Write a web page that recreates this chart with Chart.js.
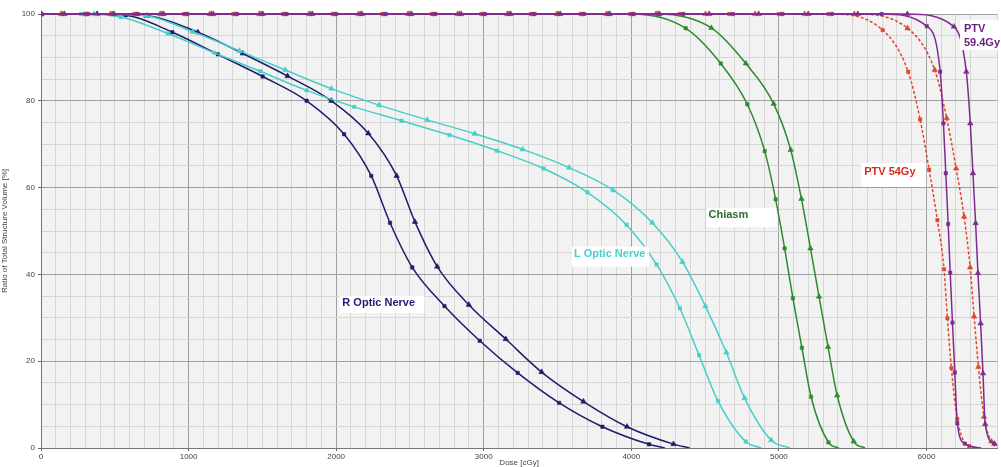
<!DOCTYPE html>
<html>
<head>
<meta charset="utf-8">
<script src="https://cdn.jsdelivr.net/npm/chart.js@4.4.1/dist/chart.umd.min.js"></script>
<style>
html, body { margin: 0; padding: 0; background: #fff; }
#wrap { width: 1001px; height: 467px; }
</style>
</head>
<body>
<div id="wrap"><canvas id="dvh" width="1001" height="467"></canvas></div>
<script>
// DVH curves, [dose cGy, volume %]; square markers = plan A, triangles = plan B
const ptv594Sq = [[0,100],[320,100],[656,100],[992,100],[1328,100],[1664,100],[2000,100],[2336,100],[2672,100],[3008,100],[3344,100],[3680,100],[4016,100],[4352,100],[4688,100],[5024,100],[5360,100],[5696,100],[6002,97.2],[6093,86.7],[6115,74.8],[6131,63.3],[6147,51.6],[6161,40.4],[6176,28.9],[6192,17.4],[6209,5.7],[6260,1.0],[6370,0]];
const ptv594Tri = [[0,100],[159,100],[495,100],[831,100],[1167,100],[1503,100],[1839,100],[2175,100],[2511,100],[2847,100],[3183,100],[3519,100],[3855,100],[4191,100],[4527,100],[4863,100],[5199,100],[5535,100],[5871,100],[6186,97.1],[6270,86.7],[6297,74.8],[6315,63.3],[6333,51.8],[6349,40.3],[6367,28.7],[6383,17.2],[6398,5.5],[6460,1.0],[6540,0]];
const ptv54Sq = [[0,100],[296,100],[632,100],[968,100],[1304,100],[1640,100],[1976,100],[2312,100],[2648,100],[2984,100],[3320,100],[3656,100],[3992,100],[4328,100],[4664,100],[5000,100],[5336,100],[5703,96.3],[5876,86.7],[5957,75.7],[6018,64.1],[6074,52.5],[6119,41.2],[6142,29.9],[6169,18.4],[6209,6.7],[6290,0.4],[6370,0]];
const ptv54Tri = [[0,100],[135,100],[471,100],[807,100],[1143,100],[1479,100],[1815,100],[2151,100],[2487,100],[2823,100],[3159,100],[3495,100],[3831,100],[4167,100],[4503,100],[4839,100],[5175,100],[5511,100],[5872,96.7],[6056,87.1],[6137,76.0],[6201,64.4],[6255,53.3],[6296,41.6],[6323,30.3],[6352,18.7],[6390,7.2],[6440,1.5],[6500,0]];
const chiasmSq = [[0,100],[308,100],[644,100],[980,100],[1316,100],[1652,100],[1988,100],[2324,100],[2660,100],[2996,100],[3332,100],[3668,100],[4004,100],[4369,96.7],[4606,88.6],[4786,79.2],[4904,68.4],[4978,57.3],[5039,46.0],[5095,34.5],[5156,23.1],[5218,11.8],[5336,1.3],[5405,0]];
const chiasmTri = [[0,100],[147,100],[483,100],[819,100],[1155,100],[1491,100],[1827,100],[2163,100],[2499,100],[2835,100],[3171,100],[3507,100],[3843,100],[4179,100],[4542,96.8],[4776,88.6],[4965,79.3],[5080,68.7],[5153,57.4],[5214,46.0],[5272,34.9],[5333,23.3],[5395,12.1],[5507,1.5],[5583,0]];
const lOpticSq = [[0,100],[270,100],[541,99.3],[860,95.5],[1171,91.1],[1485,86.8],[1800,82.4],[2122,78.6],[2443,75.4],[2768,72.1],[3090,68.5],[3405,64.4],[3703,58.9],[3968,51.4],[4171,42.3],[4329,32.2],[4459,21.4],[4588,10.8],[4775,1.5],[4880,0]];
const lOpticTri = [[0,100],[360,100],[709,99.6],[1029,95.9],[1345,91.5],[1655,87.1],[1968,82.8],[2291,79.0],[2617,75.6],[2939,72.4],[3264,68.8],[3579,64.6],[3878,59.4],[4142,51.9],[4347,42.9],[4502,32.7],[4644,22.0],[4768,11.5],[4948,1.8],[5075,0]];
const rOpticSq = [[0,100],[300,100],[574,99.7],[890,95.8],[1198,90.7],[1502,85.6],[1800,80.0],[2054,72.3],[2238,62.7],[2365,51.9],[2516,41.6],[2734,32.7],[2973,24.7],[3230,17.3],[3511,10.4],[3804,4.9],[4120,0.85],[4227,0]];
const rOpticTri = [[0,100],[380,100],[720,99.6],[1063,95.8],[1367,90.9],[1671,85.7],[1968,80.0],[2218,72.5],[2410,62.7],[2534,52.1],[2685,41.8],[2899,33.0],[3149,25.1],[3392,17.5],[3676,10.7],[3971,4.9],[4286,0.9],[4396,0]];

const labels = [
    { text: ['R Optic Nerve'], dose: 2042, vol: 33.4, color: '#23207a', box: [-3, -7, 85, 17] },
    { text: ['L Optic Nerve'], dose: 3611, vol: 44.8, color: '#3fd3d0', box: [-2, -7, 77, 20] },
    { text: ['Chiasm'], dose: 4523, vol: 53.7, color: '#2b6e2b', box: [-2, -7, 70, 19] },
    { text: ['PTV 54Gy'], dose: 5578, vol: 63.6, color: '#d82a1d', box: [-3, -9, 65, 24] },
    { text: ['PTV', '59.4Gy'], dose: 6254, vol: 96.5, color: '#6e2082', box: [-4, -9, 40, 30] }
];

const NAVY = '#1f1c6c', CYAN = '#45cfc8', GREEN = '#2d8a2d', RED = '#e2452d', PURPLE = '#7e2a8e';

function series(data, color, style, dashed) {
    return {
        data: data.map(p => ({ x: p[0], y: p[1] })),
        borderColor: color,
        backgroundColor: color,
        borderWidth: 1.5,
        borderDash: dashed ? [3, 2] : [],
        pointStyle: style,
        pointRadius: ctx => (ctx.raw && ctx.raw.y === 0) ? 0 : (style === 'triangle' ? 3.2 : 2.4),
        pointBorderWidth: 0.5,
        pointHoverRadius: 0,
        cubicInterpolationMode: 'monotone',
        clip: { left: 0, top: 6, right: 0, bottom: 0 },
        fill: false
    };
}

const plotBg = {
    id: 'plotBg',
    beforeDraw(chart) {
        const a = chart.chartArea, c = chart.ctx;
        c.save();
        c.fillStyle = '#f2f2f2';
        c.fillRect(a.left, a.top, a.right - a.left, a.bottom - a.top);
        c.restore();
    }
};

const curveLabels = {
    id: 'curveLabels',
    afterDatasetsDraw(chart) {
        const c = chart.ctx, xs = chart.scales.x, ys = chart.scales.y;
        c.save();
        c.font = 'bold 11px "Liberation Sans", Arial, sans-serif';
        c.textBaseline = 'middle';
        labels.forEach(l => {
            const px = xs.getPixelForValue(l.dose), py = ys.getPixelForValue(l.vol);
            c.fillStyle = '#fff';
            c.fillRect(px + l.box[0], py + l.box[1], l.box[2], l.box[3]);
            c.fillStyle = l.color;
            l.text.forEach((t, i) => c.fillText(t, px, py + i * 14));
        });
        c.restore();
    }
};

new Chart(document.getElementById('dvh'), {
    type: 'line',
    data: {
        datasets: [
            series(ptv594Sq, PURPLE, 'rect'),
            series(ptv594Tri, PURPLE, 'triangle'),
            series(ptv54Sq, RED, 'rect', true),
            series(ptv54Tri, RED, 'triangle', true),
            series(chiasmSq, GREEN, 'rect'),
            series(chiasmTri, GREEN, 'triangle'),
            series(lOpticSq, CYAN, 'rect'),
            series(lOpticTri, CYAN, 'triangle'),
            series(rOpticSq, NAVY, 'rect'),
            series(rOpticTri, NAVY, 'triangle')
        ]
    },
    options: {
        responsive: false,
        animation: false,
        layout: { padding: { top: 14, right: 0, left: 0, bottom: 0 } },
        plugins: { legend: { display: false }, tooltip: { enabled: false } },
        scales: {
            x: {
                type: 'linear',
                min: 0,
                max: 6480,
                afterFit: s => { s.height = 19; },
                ticks: {
                    stepSize: 100,
                    autoSkip: false,
                    maxRotation: 0,
                    padding: 1,
                    color: '#444',
                    font: { size: 8, family: '"Liberation Sans", Arial, sans-serif' },
                    callback: v => v % 1000 === 0 ? v : ''
                },
                grid: {
                    color: ctx => ctx.tick && ctx.tick.value % 1000 === 0 ? '#a0a0a0' : '#d6d6d6',
                    tickColor: ctx => ctx.tick && ctx.tick.value % 1000 === 0 ? '#666' : 'rgba(0,0,0,0)',
                    tickLength: 3
                },
                border: { color: '#777' },
                title: { display: true, text: 'Dose [cGy]', color: '#444', padding: { top: 0, bottom: -1 }, font: { size: 8, family: '"Liberation Sans", Arial, sans-serif' } }
            },
            y: {
                min: 0,
                max: 100,
                afterFit: s => { s.width = 41; },
                ticks: {
                    stepSize: 5,
                    autoSkip: false,
                    padding: 3,
                    color: '#444',
                    font: { size: 8, family: '"Liberation Sans", Arial, sans-serif' },
                    callback: v => v % 20 === 0 ? v : ''
                },
                grid: {
                    color: ctx => ctx.tick && ctx.tick.value % 20 === 0 ? '#a0a0a0' : '#d6d6d6',
                    tickColor: ctx => ctx.tick && ctx.tick.value % 20 === 0 ? '#666' : 'rgba(0,0,0,0)',
                    tickLength: 3
                },
                border: { color: '#777' },
                title: { display: true, text: 'Ratio of Total Structure Volume [%]', color: '#444', padding: 0, font: { size: 8, family: '"Liberation Sans", Arial, sans-serif' } }
            }
        }
    },
    plugins: [plotBg, curveLabels]
});
</script>
</body>
</html>
